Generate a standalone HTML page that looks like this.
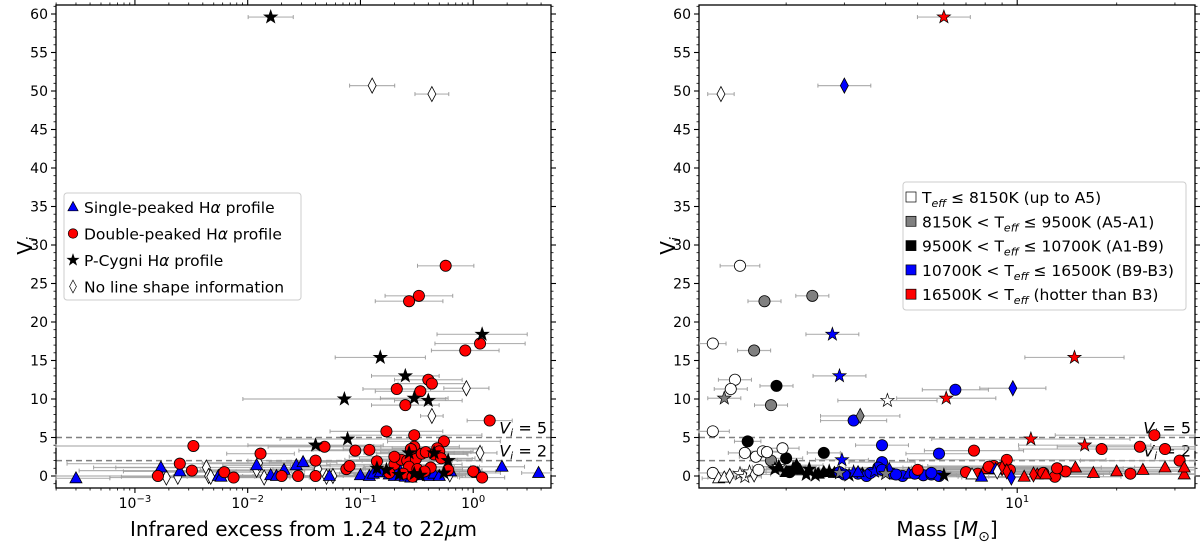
<!DOCTYPE html>
<html><head><meta charset="utf-8">
<style>
html,body{margin:0;padding:0;background:#fff;}
svg{display:block;font-family:"DejaVu Sans","Liberation Sans",sans-serif;}
</style></head>
<body>
<svg id="fig" width="1200" height="542" viewBox="0 0 1200 542" xmlns="http://www.w3.org/2000/svg">
<g id="gridL"></g>
<g id="gridR"></g>
</svg>
<script>
// ---------- LEFT PANEL DATA (infrared excess, Vi) ----------
const triX=[0.0003,0.0017,0.0025,0.0055,0.0058,0.012,0.016,0.018,0.021,0.027,0.031,0.053,0.1,0.12,0.13,0.15,0.18,0.2,0.25,0.3,0.35,0.4,0.45,0.5,0.6,0.63,1.1,1.8,3.8,0.22,0.33,0.28];
const triV=[-0.3,1.1,0.6,0,-0.1,1.4,0.1,0,0.8,1.4,1.8,0,0.1,0,0.3,0.5,0.2,0,-0.1,0.2,0.1,0,0.3,0,1.2,0.6,0.4,1.2,0.4,0.9,0.5,-0.2];
const triE=[0.3,0.4,0.5,0.4,0.3,0.3,0.3,0.3,0.3,0.3,0.3,0.4,0.3,0.3,0.3,0.3,0.3,0.3,0.3,0.3,0.3,0.3,0.3,0.3,0.2,0.2,0.2,0.2,0.15,0.3,0.3,0.3];
const cirX=[0.57,0.33,0.27,1.15,0.85,0.4,0.43,0.21,0.34,0.25,1.4,0.17,0.3,0.55,0.0033,0.048,0.09,0.12,0.3,0.28,0.48,0.013,0.0025,0.04,0.14,0.2,0.0016,0.0032,0.0062,0.0075,0.02,0.028,0.04,0.075,0.08,0.23,0.26,0.31,0.35,0.38,0.45,0.5,0.52,1.0,1.2,0.18,0.27,0.32,0.42,0.24,0.29,0.37,0.2,0.6];
const cirV=[27.3,23.4,22.7,17.2,16.3,12.5,12,11.3,11,9.2,7.2,5.8,5.3,4.5,3.9,3.8,3.3,3.4,3.8,3.5,3.6,2.9,1.6,2,1.9,1.5,0,0.7,0.5,-0.2,0,0,0,0.9,1.3,2.1,2,2.2,2.9,3.1,2.8,3.2,2.3,0.6,-0.2,0.4,1.2,0.9,1.1,0.3,-0.1,0.6,2.5,0.8];
const cirE=[0.25,0.3,0.3,0.4,0.3,0.3,0.3,0.3,0.4,0.3,0.2,0.5,0.6,0.5,1.6,0.5,0.5,0.5,0.4,0.6,0.4,0.3,1.0,0.6,0.6,0.6,1.5,1.0,0.6,0.5,0.4,0.4,0.5,0.5,0.5,0.5,0.4,0.5,0.4,0.4,0.3,0.3,0.3,0.2,0.2,0.5,0.4,0.4,0.4,0.4,0.4,0.4,0.4,0.3];
const starX=[0.016,1.2,0.15,0.25,0.3,0.4,0.072,0.077,0.04,0.27,0.45,0.6,0.14,0.17,0.22,0.3,0.34,0.55];
const starV=[59.6,18.4,15.4,13,10.1,9.8,10,4.8,4,3,3,2,1,0.8,0.2,0.3,0.1,0.4];
const starE=[0.2,0.4,0.4,0.3,0.3,0.3,0.9,0.6,0.6,0.4,0.4,0.3,0.5,0.4,0.4,0.4,0.4,0.3];
const diaX=[0.127,0.43,0.87,0.43,1.15,0.0019,0.0024,0.0043,0.0045,0.0047,0.012,0.0125,0.014,0.042,0.05,0.057,0.62];
const diaV=[50.7,49.6,11.4,7.8,3,-0.2,-0.1,1.1,0,-0.1,0.8,1.7,-0.2,0.9,-0.1,0,0.2];
const diaE=[0.2,0.15,0.2,0.1,0.15,0.5,0.5,1.0,0.5,0.5,0.5,0.5,0.4,0.4,0.4,0.3,0.3];

// ---------- RIGHT PANEL DATA (mass, Vi, temperature class, profile) ----------
const mX=[6.0,3.0,1.27,1.45,1.72,2.4,2.76,14.9,1.2,1.6,1.4,1.36,1.87,1.8,1.3,2.9,6.5,9.7,6.1,4.05,3.2,3.35,1.2,11,16,26,23.5,28,18,7.4,31,3.9,5.8,1.53,2.6,
 1.2,1.25,1.3,1.35,1.45,1.5,1.55,1.6,1.65,1.8,1.85,1.9,2.0,1.5,1.62,1.7,1.75,1.95,
 2.0,2.1,2.2,2.3,2.5,2.6,2.7,2.8,3.1,3.4,2.15,2.35,2.45,1.9,2.05,
 2.9,3.0,3.3,3.5,3.6,3.9,4.2,4.5,5.0,5.2,5.5,5.8,3.8,3.7,4.1,4.7,
 2.95,3.2,3.9,4.3,4.9,
 7.0,7.6,8.0,8.5,9.5,10.5,11.5,13,15,17,20,24,28,32,32,9.0,9.3,12,14,22,11.2,
 5.0,8.2,9.0,9.3,12.2,13.2,8.6,7.8,9.6,
 4.0,2.9,3.3,5.5,6.0,8.7,7.3];
const mV=[59.6,50.7,49.6,27.3,22.7,23.4,18.4,15.4,17.2,16.3,12.5,11.3,11.7,9.2,10.1,13,11.2,11.4,10.1,9.8,7.2,7.8,5.8,4.8,4,5.3,3.8,3.5,3.5,3.3,2,4,2.9,4.5,3.0,
 0.4,-0.3,-0.2,0,0.3,-0.1,0.5,0.2,0.8,2,0.9,1.2,2.3,3,2.5,3.2,3.1,3.6,
 0.5,1.0,0.8,0.2,0.3,0.5,0.6,0.4,0.1,0.3,1.4,0.9,0.1,1.2,0.5,
 0.5,0.2,0.3,0,0.4,1.8,0.3,0,0.4,0.1,0.2,0,1.1,0.6,0.9,0.3,
 2.1,0.5,0.8,0.2,0.3,
 0.5,0.3,0.9,1.3,0.8,-0.1,0.2,-0.1,1.1,0.4,0.6,0.8,1.1,0.2,1.1,1.1,2.1,0.4,0.6,0.3,0.2,
 0.8,1.2,1.0,0.6,0.2,1.0,0.9,-0.1,-0.2,
 0.3,0.4,0.5,0.4,0.1,0.6,0.2];
const mCls=['r','b','w','w','g','g','b','r','w','g','w','w','k','g','g','b','b','b','r','w','b','g','w','r','r','r','r','r','r','r','r','b','b','k','k',
 'w','w','w','w','w','w','w','w','w','g','k','w','k','w','w','w','w','w',
 'k','k','k','k','k','k','k','k','k','k','k','k','k','k','k',
 'b','b','b','b','b','b','b','b','b','b','b','b','b','b','b','b',
 'b','b','b','b','b',
 'r','r','r','r','r','r','r','r','r','r','r','r','r','r','r','r','r','r','r','r','r',
 'r','r','r','r','r','r','b','b','b',
 'g','g','b','b','k','w','w'];
const mShp=['s','d','d','c','c','c','s','s','c','c','c','c','c','c','s','s','c','d','s','s','c','d','c','s','s','c','c','c','c','c','c','c','c','c','c',
 'c','t','t','d','s','s','s','d','c','c','s','s','c','c','c','c','c','c',
 't','s','t','s','t','t','s','t','s','t','t','s','s','t','c',
 'c','c','c','c','c','c','c','c','c','c','c','c','c','s','t','t',
 's','s','c','c','c',
 'c','c','t','c','c','t','t','c','t','t','t','t','t','t','t','c','c','c','c','c','d',
 'c','c','d','d','t','c','t','t','d',
 's','s','t','c','s','d','t'];
const mE=[0.08,0.08,0.04,0.06,0.05,0.05,0.08,0.15,0.04,0.05,0.05,0.05,0.05,0.05,0.05,0.08,0.1,0.1,0.15,0.15,0.1,0.12,0.05,0.3,0.2,0.3,0.25,0.2,0.25,0.15,0.3,0.08,0.1,0.04,0.05,
 0.05,0.05,0.05,0.05,0.05,0.05,0.05,0.05,0.05,0.05,0.05,0.05,0.05,0.05,0.05,0.05,0.05,0.05,
 0.08,0.08,0.08,0.08,0.08,0.08,0.08,0.08,0.08,0.08,0.08,0.08,0.08,0.08,0.08,
 0.1,0.1,0.1,0.1,0.1,0.1,0.1,0.1,0.1,0.1,0.1,0.1,0.1,0.1,0.1,0.1,
 0.08,0.08,0.08,0.08,0.08,
 0.2,0.2,0.2,0.2,0.2,0.2,0.2,0.2,0.2,0.2,0.2,0.2,0.15,0.15,0.15,0.3,0.3,0.2,0.2,0.2,0.2,
 0.2,0.2,0.2,0.2,0.2,0.2,0.15,0.15,0.15,
 0.08,0.08,0.08,0.1,0.1,0.1,0.1];

const yTicks=[0,5,10,15,20,25,30,35,40,45,50,55,60];
const leftDecades=[-3,-2,-1,0];
const rightDecades=[1];

// ---------- GEOMETRY ----------
const NS='http://www.w3.org/2000/svg';
const svg=document.getElementById('fig');
const TOP=5,BOT=488;
const yS=v=>476-v*7.7;
const L={x0:56,x1:551,xf:e=>473+112.7*Math.log10(e),lmin:-3.70,lmax:0.69};
const R={x0:699,x1:1195,xf:m=>1017+331*Math.log10(m/10),lmin:Math.log10(1.09),lmax:Math.log10(34.5)};
function el(tag,attrs,parent){const e=document.createElementNS(NS,tag);for(const k in attrs)e.setAttribute(k,attrs[k]);(parent||svg).appendChild(e);return e;}
const colors={w:'#ffffff',g:'#808080',k:'#000000',b:'#0000ff',r:'#ff0000'};

function marker(g,shape,x,y,fill){
  let e;
  if(shape==='c'){e=el('circle',{cx:x,cy:y,r:5.6,fill:fill,stroke:'#000','stroke-width':0.8},g);}
  else if(shape==='t'){e=el('polygon',{points:`${x},${y-6.5} ${x+6},${y+4.5} ${x-6},${y+4.5}`,fill:fill,stroke:'#000','stroke-width':0.8},g);}
  else if(shape==='d'){e=el('polygon',{points:`${x},${y-7.5} ${x+4},${y} ${x},${y+7.5} ${x-4},${y}`,fill:fill,stroke:'#000','stroke-width':0.8},g);}
  else {let p=[];for(let i=0;i<10;i++){const a=-Math.PI/2+i*Math.PI/5;const r=i%2?2.8:7;p.push((x+r*Math.cos(a)).toFixed(1)+','+(y+r*Math.sin(a)).toFixed(1));}
    e=el('polygon',{points:p.join(' '),fill:fill,stroke:'#000','stroke-width':0.7},g);}
  return e;
}
function errbar(g,P,xv,v,dec){
  const x1=Math.max(P.x0,P.xf(xv/Math.pow(10,dec))),x2=Math.min(P.x1,P.xf(xv*Math.pow(10,dec))),y=yS(v);
  el('line',{x1:x1,x2:x2,y1:y,y2:y,stroke:'#a0a0a0','stroke-width':1.2,opacity:0.8},g);
  el('line',{x1:x1,x2:x1,y1:y-2,y2:y+2,stroke:'#a0a0a0','stroke-width':1},g);
  el('line',{x1:x2,x2:x2,y1:y-2,y2:y+2,stroke:'#a0a0a0','stroke-width':1},g);
}
function axes(P,decs,labelX,name){
  const g=el('g',{});
  
  
  // dashed lines
  [5,2].forEach(v=>{const ln=el('line',{x1:P.x0,x2:P.x1,y1:yS(v),y2:yS(v),stroke:'#808080','stroke-width':1.5,'stroke-dasharray':'6,4'},g);
    
    const t=el('text',{x:P.x1-4,y:yS(v)-4,'font-size':16,'text-anchor':'end'},g);
    
    t.innerHTML='<tspan font-style="italic">V</tspan><tspan font-style="italic" font-size="11" dy="3">i</tspan><tspan dy="-3"> = '+v+'</tspan>';});
  el('rect',{x:P.x0,y:TOP,width:P.x1-P.x0,height:BOT-TOP,fill:'none',stroke:'#000','stroke-width':1.3},g);
  // y ticks
  for(let v=-1;v<=61;v++){const y=yS(v);const maj=v%5===0&&v>=0;
    [[P.x0,-1],[P.x1,1]].forEach(([x,s])=>el('line',{x1:x,x2:x+s*(maj?5:2.5),y1:y,y2:y,stroke:'#000','stroke-width':maj?1.1:0.8},g));}
  yTicks.forEach(v=>{const t=el('text',{x:P.x0-8,y:yS(v)+5,'font-size':14,'text-anchor':'end'},g);t.textContent=v;
    });
  // x log ticks
  for(let d=Math.floor(P.lmin);d<=Math.ceil(P.lmax);d++){for(let k=1;k<10;k++){const lx=d+Math.log10(k);if(lx<P.lmin||lx>P.lmax)continue;
    const x=P.x0+(lx-P.lmin)/(P.lmax-P.lmin)*(P.x1-P.x0);const maj=k===1;
    el('line',{x1:x,x2:x,y1:BOT,y2:BOT+(maj?5:2.5),stroke:'#000','stroke-width':maj?1.1:0.8},g);
    el('line',{x1:x,x2:x,y1:TOP,y2:TOP-(maj?5:2.5),stroke:'#000','stroke-width':maj?1.1:0.8},g);}}
  decs.forEach(d=>{const x=P.x0+(d-P.lmin)/(P.lmax-P.lmin)*(P.x1-P.x0);const t=el('text',{x:x,y:508,'font-size':14,'text-anchor':'middle'},g);
    
    t.innerHTML='10<tspan font-size="10" dy="-6">'+(d<0?'\u2212'+(-d):d)+'</tspan>';});
  const xl=el('text',{x:(P.x0+P.x1)/2,y:536,'font-size':20,'text-anchor':'middle'},g);xl.innerHTML=labelX;
  
  const yl=el('text',{x:0,y:0,'font-size':20,'text-anchor':'middle',transform:`translate(${P.x0-24},246) rotate(-90)`},g);
  yl.innerHTML='V<tspan font-size="14" font-style="italic" dy="5">i</tspan>';
  
}
// left panel
L.xf=e=>L.x0+(Math.log10(e)-L.lmin)/(L.lmax-L.lmin)*(L.x1-L.x0);
R.xf=m=>R.x0+(Math.log10(m)-R.lmin)/(R.lmax-R.lmin)*(R.x1-R.x0);
axes(L,leftDecades,'Infrared excess from 1.24 to 22<tspan font-style="italic">μ</tspan>m','left');
axes(R,rightDecades,'Mass [<tspan font-style="italic">M</tspan><tspan font-size="14" dy="5">⊙</tspan><tspan dy="-5">]</tspan>','right');

const gL=el('g',{});


const lSeries=[[diaX,diaV,diaE,'d','#fff','no-info'],[triX,triV,triE,'t','#0000ff','single-peaked'],[cirX,cirV,cirE,'c','#ff0000','double-peaked'],[starX,starV,starE,'s','#000','p-cygni']];
lSeries.forEach(s=>s[0].forEach((x,i)=>errbar(gL,L,x,s[1][i],s[2][i])));
lSeries.forEach(s=>s[0].forEach((x,i)=>{const m=marker(gL,s[3],L.xf(x),yS(s[1][i]),s[4]);
  
  }));

const gR=el('g',{});


mX.forEach((x,i)=>errbar(gR,R,x,mV[i],mE[i]));
mX.forEach((x,i)=>{const m=marker(gR,mShp[i],R.xf(x),yS(mV[i]),colors[mCls[i]]);
  
  });

// legends
function legend(x,y,w,h,rows,name){
  const g=el('g',{});
  
  
  el('rect',{x:x,y:y,width:w,height:h,rx:3,fill:'#fff',stroke:'#ccc','stroke-width':1},g);
  rows.forEach(r=>{r.draw(g);const t=el('text',{x:r.tx,y:r.ty,'font-size':15.5},g);t.innerHTML=r.html;
    });
}
const lrows=[['t','#0000ff','Single-peaked H<tspan font-style="italic">α</tspan> profile'],['c','#ff0000','Double-peaked H<tspan font-style="italic">α</tspan> profile'],['s','#000','P-Cygni H<tspan font-style="italic">α</tspan> profile'],['d','#fff','No line shape information']];
legend(64,193,237,107,lrows.map((r,i)=>({tx:84,ty:213+i*26.5,html:r[2],draw:g=>{const m=marker(g,r[0],73,207+i*26.5,r[1]);m.setAttribute('transform',`translate(73,${207+i*26.5}) scale(0.85) translate(-73,${-(207+i*26.5)})`);}})),'left-legend');
const sub='<tspan font-size="11" font-style="italic" dy="4">eff</tspan><tspan dy="-4">';
const rrows=[['#fff','T'+sub+' ≤ 8150K (up to A5)</tspan>'],['#808080','8150K &lt; T'+sub+' ≤ 9500K (A5-A1)</tspan>'],['#000','9500K &lt; T'+sub+' ≤ 10700K (A1-B9)</tspan>'],['#0000ff','10700K &lt; T'+sub+' ≤ 16500K (B9-B3)</tspan>'],['#ff0000','16500K &lt; T'+sub+' (hotter than B3)</tspan>']];
legend(903,182,283,128,rrows.map((r,i)=>({tx:922,ty:203+i*24.3,html:r[1],draw:g=>el('rect',{x:906,y:192+i*24.3,width:10,height:10,fill:r[0],stroke:'#000','stroke-width':0.7},g)})),'right-legend');
</script>
</body></html>
